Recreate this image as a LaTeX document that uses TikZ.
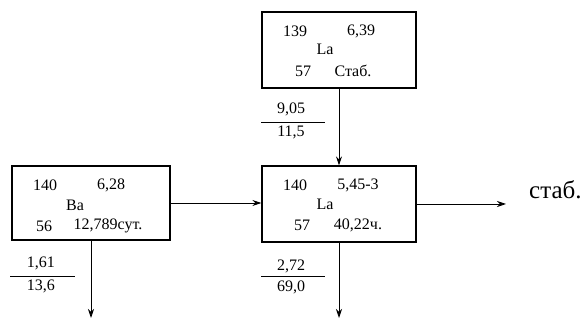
\documentclass[tikz,border=0pt]{standalone}
\usepackage{fontspec}
\setmainfont{Liberation Serif}
\usetikzlibrary{arrows.meta}
\begin{document}
\begin{tikzpicture}[x=1pt,y=-1pt,
  nucbox/.style={draw,line width=1.3pt,minimum width=154pt,minimum height=76pt,inner sep=0pt},
  lbl/.style={font=\fontsize{16}{18}\selectfont,inner sep=0pt},
  flow/.style={line width=0.8pt,-{Stealth[length=9pt,width=6pt]}},
  fracline/.style={line width=0.8pt}]
\useasboundingbox (0,0) rectangle (587,320);

% decay chain boxes
\node[nucbox] (la139) at (339,50) {};
\node[nucbox,minimum width=158pt,minimum height=74pt] (ba140) at (91,203) {};
\node[nucbox] (la140) at (339,204) {};

% contents of the La-139 box
\node[lbl] (t1) at (295,31) {139};
\node[lbl] (t2) at (361,31) {6,39};
\node[lbl] (t3) at (325,49) {La};
\node[lbl] (t4) at (303,71) {57};
\node[lbl] (t5) at (353,71) {Стаб.};

% contents of the Ba-140 box
\node[lbl] (b1) at (45,185) {140};
\node[lbl] (b2) at (111,185) {6,28};
\node[lbl] (b3) at (75,205) {Ba};
\node[lbl] (b4) at (44,226) {56};
\node[lbl] (b5) at (108,226) {12,789сут.};

% contents of the La-140 box
\node[lbl] (m1) at (295,185) {140};
\node[lbl] (m2) at (358,185) {5,45-3};
\node[lbl] (m3) at (325,204) {La};
\node[lbl] (m4) at (302,225) {57};
\node[lbl] (m5) at (358,225) {40,22ч.};

% transitions
\coordinate (baout) at (91,318);
\coordinate (laout) at (339,318);
\coordinate (stabend) at (506,204);
\draw[flow] (la139.south) -- (la140.north);
\draw[flow] (ba140.east) -- (la140.west |- ba140.east);
\draw[flow] (la140.east) -- (stabend);
\draw[flow] (ba140.south) -- (baout);
\draw[flow] (la140.south) -- (laout);

\node[inner sep=0pt,font=\fontsize{25}{28}\selectfont,anchor=base west] (stab) at (529,199) {стаб.};

% fraction labels next to the arrows
\node[lbl] (f1a) at (41,263) {1,61};
\coordinate (f1l) at (10,276);
\coordinate (f1r) at (75,276);
\draw[fracline] (f1l) -- (f1r);
\node[lbl] (f1b) at (41,286) {13,6};

\node[lbl] (f2a) at (291,109) {9,05};
\coordinate (f2l) at (261,122);
\coordinate (f2r) at (325,122);
\draw[fracline] (f2l) -- (f2r);
\node[lbl] (f2b) at (291,132) {11,5};

\node[lbl] (f3a) at (291,266) {2,72};
\coordinate (f3l) at (261,276);
\coordinate (f3r) at (325,276);
\draw[fracline] (f3l) -- (f3r);
\node[lbl] (f3b) at (291,287) {69,0};
\end{tikzpicture}
\end{document}
